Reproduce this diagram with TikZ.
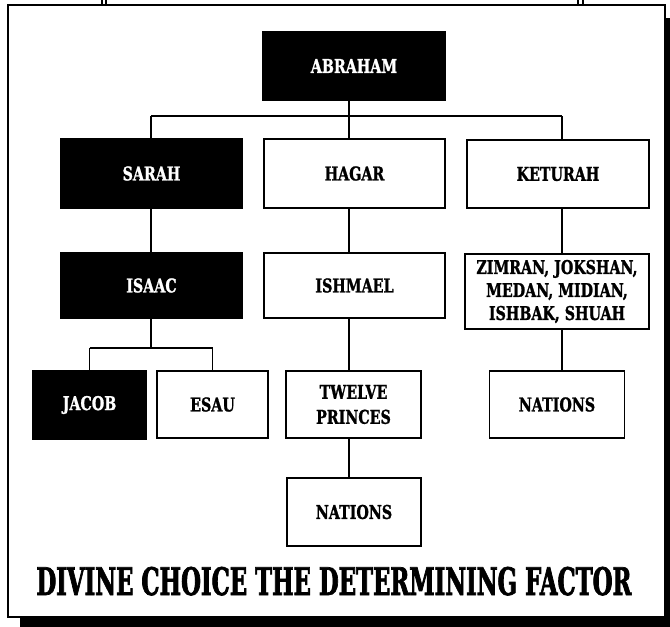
\documentclass[tikz,border=0pt]{standalone}
\usepackage{fontspec}
\newfontfamily\labfont[FakeStretch=0.75,FakeBold=1.2]{DejaVu Serif}
\newfontfamily\titlefont[FakeStretch=0.6,FakeBold=1.8]{DejaVu Serif}
\begin{document}
\begin{tikzpicture}[x=1pt,y=-1pt,
  box/.style={draw=black, line width=1.3pt, inner sep=0pt, align=center,
    font=\labfont\bfseries\fontsize{19}{24}\selectfont},
  blk/.style={box, fill=black, text=white},
  wht/.style={box, fill=white, text=black},
  conn/.style={line width=1.8pt},
  frame/.style={line width=2.4pt}]
\useasboundingbox (0,0) rectangle (670,627);
% frame and shadow
\fill[black] (20,616) rectangle (670,627);
\fill[black] (664,18) rectangle (670,627);
\draw[frame] (8,5) rectangle (665,617);
\draw[line width=1.3pt] (102,0) -- (102,5) (106,0) -- (106,5) (578,0) -- (578,5) (583,0) -- (583,5);
% nodes
\node[blk, minimum width=182pt, minimum height=68pt] (abraham) at (354,66) {ABRAHAM};
\node[blk, minimum width=181pt, minimum height=69pt] (sarah) at (151.5,173.5) {SARAH};
\node[wht, minimum width=181pt, minimum height=69pt] (hagar) at (354.5,173.5) {HAGAR};
\node[wht, minimum width=182pt, minimum height=68pt] (keturah) at (558,174) {KETURAH};
\node[blk, minimum width=181pt, minimum height=65pt] (isaac) at (151.5,285.5) {ISAAC};
\node[wht, minimum width=181pt, minimum height=65pt] (ishmael) at (354.5,285.5) {ISHMAEL};
\node[wht, minimum width=184pt, minimum height=75pt, font=\labfont\bfseries\fontsize{19}{23}\selectfont] (zimran) at (557,291.5) {ZIMRAN, JOKSHAN,\\MEDAN, MIDIAN,\\ISHBAK, SHUAH};
\node[blk, minimum width=113pt, minimum height=68pt] (jacob) at (89.5,405) {JACOB};
\node[wht, minimum width=111pt, minimum height=67pt] (esau) at (212.5,404.5) {ESAU};
\node[wht, minimum width=135pt, minimum height=67pt, font=\labfont\bfseries\fontsize{19}{25}\selectfont] (twelve) at (353.5,404.5) {TWELVE\\PRINCES};
\node[wht, minimum width=135pt, minimum height=67pt] (nationsR) at (557,404.5) {NATIONS};
\node[wht, minimum width=134pt, minimum height=68pt] (nationsM) at (354,512) {NATIONS};
\node[font=\titlefont\bfseries\fontsize{38}{40}\selectfont, inner sep=0pt, anchor=base] (title) at (334,595) {DIVINE CHOICE THE DETERMINING FACTOR};
% connectors
\coordinate (busL) at (151,116);
\coordinate (busM) at (349,116);
\coordinate (busR) at (562,116);
\coordinate (b2) at (151,348);
\coordinate (b2l) at (89.5,348);
\coordinate (b2r) at (212.5,348);
\draw[conn] (busM |- abraham.south) -- (busM);
\draw[conn] (busL) -- (busR);
\draw[conn] (busL) -- (busL |- sarah.north);
\draw[conn] (busM) -- (busM |- hagar.north);
\draw[conn] (busR) -- (busR |- keturah.north);
\draw[conn] (busL |- sarah.south) -- (busL |- isaac.north);
\draw[conn] (busM |- hagar.south) -- (busM |- ishmael.north);
\draw[conn] (busR |- keturah.south) -- (busR |- zimran.north);
\draw[conn] (b2 |- isaac.south) -- (b2);
\draw[conn] (b2l) -- (b2r);
\draw[conn] (b2l) -- (b2l |- jacob.north);
\draw[conn] (b2r) -- (b2r |- esau.north);
\draw[conn] (busM |- ishmael.south) -- (busM |- twelve.north);
\draw[conn] (busR |- zimran.south) -- (busR |- nationsR.north);
\draw[conn] (busM |- twelve.south) -- (busM |- nationsM.north);
\end{tikzpicture}
\end{document}
